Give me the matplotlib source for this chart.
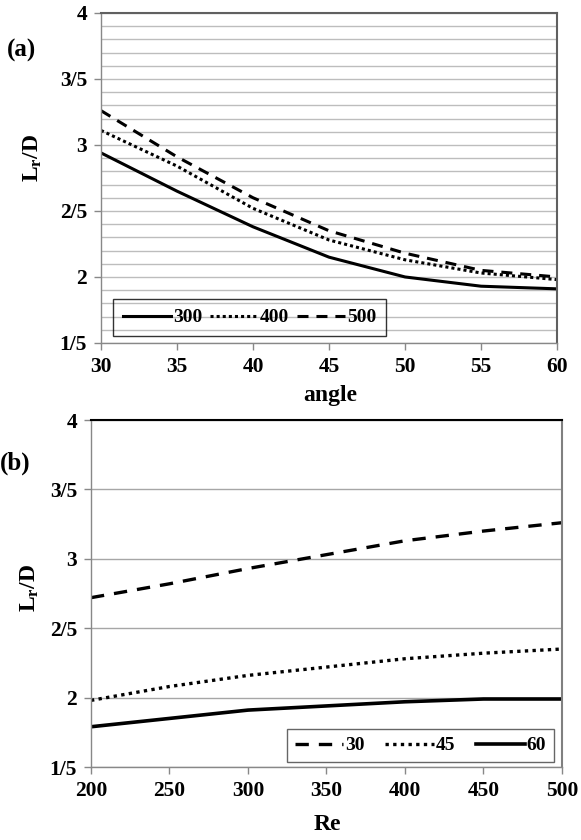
import matplotlib
matplotlib.use('Agg')
import matplotlib.pyplot as plt
from matplotlib.ticker import FixedLocator, MultipleLocator

plt.rcParams['font.family'] = ['Liberation Serif', 'DejaVu Serif']
plt.rcParams['font.weight'] = 'bold'
plt.rcParams['mathtext.fontset'] = 'custom'
plt.rcParams['mathtext.rm'] = 'Liberation Serif:bold'
plt.rcParams['mathtext.it'] = 'Liberation Serif:bold'
plt.rcParams['mathtext.bf'] = 'Liberation Serif:bold'

# ---- data panel (a): Lr/D vs angle for several Re
angle = [30, 35, 40, 45, 50, 55, 60]
re300 = [2.94, 2.65, 2.38, 2.15, 2.00, 1.93, 1.91]
re400 = [3.11, 2.84, 2.52, 2.28, 2.13, 2.03, 1.98]
re500 = [3.26, 2.91, 2.60, 2.35, 2.18, 2.05, 2.00]
labels_a = ['300', '400', '500']

# ---- data panel (b): Lr/D vs Re for several angles
re = [200, 250, 300, 350, 400, 450, 500]
ang30 = [2.72, 2.82, 2.93, 3.03, 3.13, 3.20, 3.26]
ang45 = [1.98, 2.08, 2.16, 2.22, 2.28, 2.32, 2.35]
ang60 = [1.79, 1.85, 1.91, 1.94, 1.97, 1.99, 1.99]
labels_b = ['30', '45', '60']

y_ticks = [1.5, 2, 2.5, 3, 3.5, 4]
y_tick_labels = ['1/5', '2', '2/5', '3', '3/5', '4']
xa_ticks = [30, 35, 40, 45, 50, 55, 60]
xb_ticks = [200, 250, 300, 350, 400, 450, 500]

TICK_FS = 15.5
SOLID = '-'
DOT_A = (0, (1, 1.0))
DASH_A = (0, (3.6, 2.6))
DOT_B = (0, (1, 1.3))
DASH_B = (0, (4, 3))

fig = plt.figure(figsize=(5.81, 8.4), dpi=100)

def style_axes(ax, xticks, xlim, topcolor, rightcolor):
    ax.set_xlim(*xlim)
    ax.set_ylim(1.5, 4)
    ax.xaxis.set_major_locator(FixedLocator(xticks))
    ax.set_xticklabels([str(t) for t in xticks], fontsize=TICK_FS, fontweight='bold')
    ax.yaxis.set_major_locator(FixedLocator(y_ticks))
    ax.set_yticklabels(y_tick_labels, fontsize=TICK_FS, fontweight='bold')
    ax.tick_params(axis='both', which='major', direction='out', length=5,
                   color='#888888', width=1, pad=5)
    ax.tick_params(axis='y', which='minor', length=0)
    for s in ['left', 'bottom']:
        ax.spines[s].set_color('#888888')
        ax.spines[s].set_linewidth(1)
    ax.spines['top'].set_color(topcolor)
    ax.spines['top'].set_linewidth(1.5)
    ax.spines['right'].set_color(rightcolor)
    ax.spines['right'].set_linewidth(1.5)
    ax.set_axisbelow(True)

# ---------------- panel (a)
axa = fig.add_axes([0.1738, 0.5917, 0.785, 0.3929])
style_axes(axa, xa_ticks, (30, 60), '#606060', '#606060')
axa.yaxis.set_minor_locator(MultipleLocator(0.1))
axa.grid(True, which='both', axis='y', color='#BDBDBD', linewidth=1)
axa.plot(angle, re300, color='black', lw=2.2, ls=SOLID, label=labels_a[0])
axa.plot(angle, re400, color='black', lw=2.2, ls=DOT_A, label=labels_a[1])
axa.plot(angle, re500, color='black', lw=2.2, ls=DASH_A, label=labels_a[2])
lga = axa.legend(loc='lower left', bbox_to_anchor=(0.026, 0.021, 0.599, 0.121),
                 mode='expand', ncol=3, frameon=True, fancybox=False,
                 prop={'family': 'Liberation Serif', 'weight': 'bold', 'size': 14},
                 handlelength=2.5, handletextpad=0.1, columnspacing=1.0,
                 borderpad=0.5, borderaxespad=0)
lga.get_frame().set_edgecolor('black')
lga.get_frame().set_facecolor('none')
lga.get_frame().set_linewidth(1)

fig.text(330 / 581, 1 - 396 / 840, 'angle', ha='center', va='center',
         fontsize=17, fontweight='bold')
fig.text(33 / 581, 1 - 158 / 840, r'$\mathregular{L_r/D}$', rotation=90,
         ha='center', va='center', fontsize=17, fontweight='bold')
fig.text(7 / 581, 1 - 50 / 840, '(a)', ha='left', va='center',
         fontsize=18, fontweight='bold')

# ---------------- panel (b)
axb = fig.add_axes([0.1566, 0.0869, 0.8107, 0.4131])
style_axes(axb, xb_ticks, (200, 500), 'black', '#808080')
axb.grid(True, which='major', axis='y', color='#A6A6A6', linewidth=1)
axb.plot(re, ang30, color='black', lw=2.4, ls=DASH_B, label=labels_b[0])
axb.plot(re, ang45, color='black', lw=2.4, ls=DOT_B, label=labels_b[1])
axb.plot(re, ang60, color='black', lw=2.6, ls=SOLID, label=labels_b[2])
lgb = axb.legend(loc='lower left', bbox_to_anchor=(0.416, 0.014, 0.567, 0.101),
                 mode='expand', ncol=3, frameon=True, fancybox=False,
                 prop={'family': 'Liberation Serif', 'weight': 'bold', 'size': 14},
                 handlelength=2.5, handletextpad=0.1, columnspacing=1.0,
                 borderpad=0.4, borderaxespad=0)
lgb.get_frame().set_edgecolor('#404040')
lgb.get_frame().set_facecolor('none')
lgb.get_frame().set_linewidth(1)

fig.text(327 / 581, 1 - 825 / 840, 'Re', ha='center', va='center',
         fontsize=17, fontweight='bold')
fig.text(30 / 581, 1 - 588 / 840, r'$\mathregular{L_r/D}$', rotation=90,
         ha='center', va='center', fontsize=17, fontweight='bold')
fig.text(0 / 581, 1 - 463 / 840, '(b)', ha='left', va='center',
         fontsize=18, fontweight='bold')

fig.savefig('out.png', dpi=100)
